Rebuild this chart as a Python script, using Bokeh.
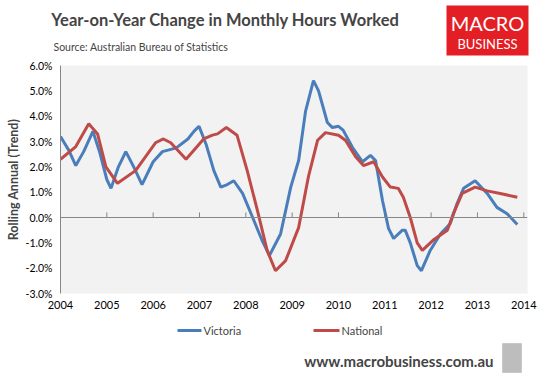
from bokeh.plotting import figure
from bokeh.layouts import column, row
from bokeh.models import (Label, BoxAnnotation, Span, FixedTicker,
                          PrintfTickFormatter, Range1d)
from bokeh.embed import file_html
from bokeh.resources import INLINE

title = "Year-on-Year Change in Monthly Hours Worked"
source = "Source: Australian Bureau of Statistics"
y_label = "Rolling Annual (Trend)"
footer = "www.macrobusiness.com.au"
logo_top = "MACRO"
logo_bottom = "BUSINESS"
series_names = ["Victoria", "National"]

years = [2004, 2005, 2006, 2007, 2008, 2009, 2010, 2011, 2012, 2013, 2014]
y_ticks = [-3, -2, -1, 0, 1, 2, 3, 4, 5, 6]

vic_x = [2004.0, 2004.18, 2004.33, 2004.5, 2004.7, 2004.85, 2005.0, 2005.09,
         2005.25, 2005.41, 2005.58, 2005.76, 2006.0, 2006.2, 2006.5, 2006.75,
         2006.88, 2006.99, 2007.15, 2007.31, 2007.46, 2007.6, 2007.74, 2007.93,
         2008.17, 2008.35, 2008.51, 2008.75, 2008.97, 2009.14, 2009.29, 2009.46,
         2009.57, 2009.76, 2009.87, 2010.0, 2010.1, 2010.3, 2010.52, 2010.69,
         2010.8, 2010.95, 2011.08, 2011.19, 2011.38, 2011.44, 2011.55, 2011.7,
         2011.79, 2011.98, 2012.2, 2012.41, 2012.56, 2012.7, 2012.95, 2013.21,
         2013.42, 2013.64, 2013.86]
vic_y = [3.2, 2.65, 2.05, 2.6, 3.4, 2.55, 1.5, 1.15,
         2.0, 2.6, 2.0, 1.3, 2.2, 2.6, 2.75, 3.1,
         3.4, 3.6, 2.85, 1.85, 1.2, 1.3, 1.45, 0.95,
         -0.1, -0.9, -1.5, -0.65, 1.2, 2.25, 4.2, 5.4,
         5.0, 3.75, 3.55, 3.6, 3.45, 2.77, 2.2, 2.45,
         2.25, 0.67, -0.43, -0.83, -0.5, -0.5, -1.0, -1.9,
         -2.1, -1.3, -0.65, -0.25, 0.55, 1.15, 1.45, 0.95,
         0.4, 0.15, -0.28]

nat_x = [2004.0, 2004.33, 2004.61, 2004.8, 2004.98, 2005.23, 2005.62, 2006.05,
         2006.22, 2006.38, 2006.71, 2007.09, 2007.28, 2007.39, 2007.58, 2007.81,
         2008.03, 2008.25, 2008.46, 2008.64, 2008.86, 2009.14, 2009.35, 2009.55,
         2009.72, 2010.0, 2010.15, 2010.37, 2010.54, 2010.76, 2010.95, 2011.12,
         2011.29, 2011.4, 2011.55, 2011.7, 2011.81, 2012.04, 2012.35, 2012.48,
         2012.67, 2012.95, 2013.21, 2013.49, 2013.86]
nat_y = [2.3, 2.8, 3.7, 3.3, 2.0, 1.35, 1.85, 2.95,
         3.1, 2.95, 2.3, 3.1, 3.25, 3.3, 3.55, 3.25,
         1.85, 0.28, -1.3, -2.1, -1.7, -0.4, 1.6, 3.05,
         3.35, 3.25, 3.05, 2.4, 2.05, 2.2, 1.6, 1.2,
         1.15, 0.8, 0.0, -1.0, -1.3, -0.9, -0.5, 0.15,
         0.95, 1.2, 1.05, 0.95, 0.8]

BLUE = "#4A7EBB"
RED = "#BE4B48"
FONT = "Lato"
W = 544
FL, FR = 60, 527          # frame left/right on the page
TOP_B, FH, BOT_B = 7, 228, 22


def blank(height, y_top, y_bottom):
    f = figure(width=W, height=height, output_backend="svg", toolbar_location=None,
               title=None, x_range=Range1d(0, W), y_range=Range1d(y_bottom, y_top),
               x_axis_type=None, y_axis_type=None, min_border=0)
    f.outline_line_color = None
    f.grid.visible = False
    f.background_fill_color = "white"
    f.border_fill_color = "white"
    return f


# ---------- header ----------
head = blank(58, 0, 58)
head.add_layout(Label(x=225, y=19, text=title, text_font=FONT,
                      text_font_style="bold", text_font_size="16.5px",
                      text_align="center", text_baseline="middle"))
head.add_layout(Label(x=53, y=46, text=source, text_font=FONT,
                      text_font_size="10.5px", text_align="left",
                      text_baseline="middle"))
head.add_layout(BoxAnnotation(left=446, right=528, top=5, bottom=55,
                              fill_color="#E31E24", fill_alpha=1, line_color=None))
head.add_layout(Label(x=487, y=22, text=logo_top, text_font=FONT,
                      text_font_size="20px", text_color="white",
                      text_align="center", text_baseline="middle"))
head.add_layout(Label(x=487, y=43, text=logo_bottom, text_font=FONT,
                      text_font_size="13px", text_color="white",
                      text_align="center", text_baseline="middle"))

# ---------- main chart ----------
p = figure(width=W, height=TOP_B + FH + BOT_B, output_backend="svg",
           toolbar_location=None, title=None,
           x_range=Range1d(2004, 2014.08), y_range=Range1d(-3, 6),
           min_border_left=FL, min_border_top=TOP_B, min_border_right=W - FR,
           min_border_bottom=BOT_B)
p.background_fill_color = "#F2F2F2"
p.border_fill_color = "white"
p.outline_line_color = None
p.grid.visible = False

p.add_layout(Span(location=0, dimension="width", line_color="#868686", line_width=1))
p.segment(x0=years, y0=[0] * len(years), x1=years, y1=[0.2] * len(years),
          line_color="#868686", line_width=1)

p.line(vic_x, vic_y, line_color=BLUE, line_width=3)
p.line(nat_x, nat_y, line_color=RED, line_width=3)

xa = p.xaxis[0]
xa.ticker = FixedTicker(ticks=years)
xa.formatter = PrintfTickFormatter(format="%d")
xa.axis_line_color = None
xa.major_tick_line_color = None
xa.minor_tick_line_color = None
xa.major_tick_out = 0
xa.major_tick_in = 0
xa.major_label_standoff = 7
xa.major_label_text_font = FONT
xa.major_label_text_font_size = "11px"
xa.major_label_text_color = "#000000"

ya = p.yaxis[0]
ya.ticker = FixedTicker(ticks=y_ticks)
ya.formatter = PrintfTickFormatter(format="%.1f%%")
ya.axis_line_color = "#868686"
ya.major_tick_line_color = None
ya.minor_tick_line_color = None
ya.major_tick_out = 0
ya.major_tick_in = 0
ya.major_label_standoff = 8
ya.major_label_text_font = FONT
ya.major_label_text_font_size = "10.5px"
ya.major_label_text_color = "#000000"
ya.axis_label = y_label
ya.axis_label_text_font = FONT
ya.axis_label_text_font_style = "bold"
ya.axis_label_text_font_size = "12.5px"
ya.axis_label_standoff = 2

# ---------- footer (legend + site) ----------
foot = blank(61, 315, 376)
# legend swatches and labels
foot.segment(x0=[177, 313], y0=[330, 330], x1=[201, 339], y1=[330, 330],
             line_color=[BLUE, RED], line_width=3)
foot.add_layout(Label(x=203, y=330, text=series_names[0], text_font=FONT,
                      text_font_size="11px", text_align="left",
                      text_baseline="middle"))
foot.add_layout(Label(x=341, y=330, text=series_names[1], text_font=FONT,
                      text_font_size="11px", text_align="left",
                      text_baseline="middle"))
foot.add_layout(Label(x=493, y=360, text=footer, text_font=FONT,
                      text_font_style="bold", text_font_size="15px",
                      text_align="right", text_baseline="middle"))
foot.add_layout(BoxAnnotation(left=502, right=521, top=343, bottom=372,
                              fill_color="#BDBDBD", fill_alpha=1,
                              line_color="#999999"))

layout = column(row(head), p, row(foot), spacing=0)
open("out.html", "w").write(file_html(layout, INLINE))
